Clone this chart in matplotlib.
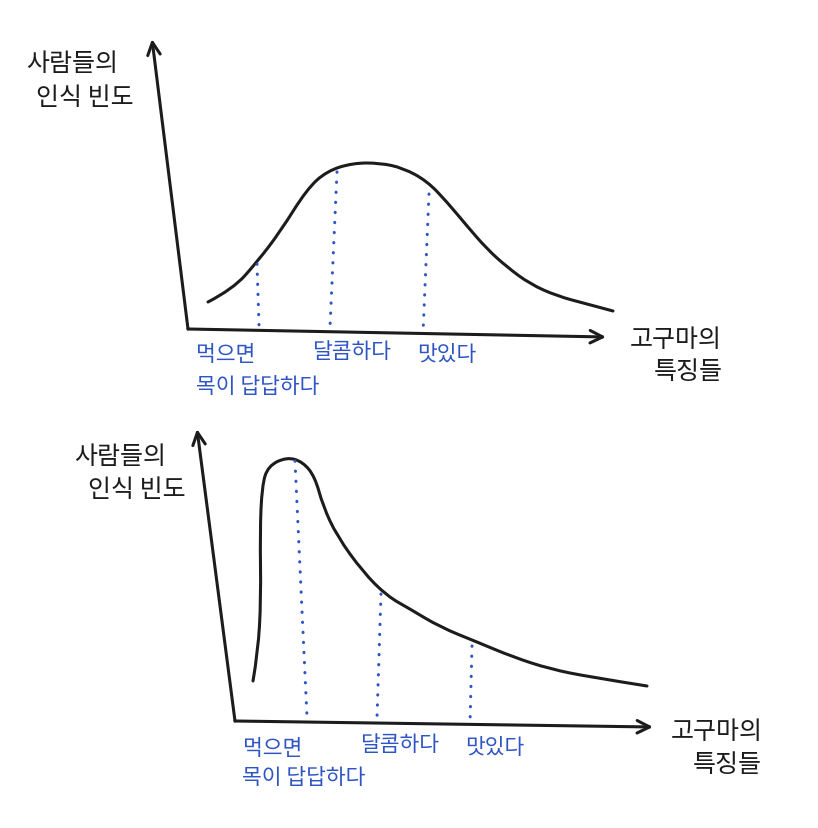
import matplotlib
matplotlib.use('Agg')
import matplotlib.pyplot as plt
from matplotlib.path import Path
from matplotlib.patches import PathPatch

plt.rcParams['font.family'] = ['Noto Sans CJK KR', 'DejaVu Sans']

INK = '#1c1c1c'
BLUE = '#2f55c4'

# 위 그림: 종 모양 분포 (그림 좌표, px)
top_curve_x = [208, 233, 257, 280, 307, 327, 353, 380, 403, 427, 447, 467, 487, 507, 530, 557, 587, 613]
top_curve_y = [303, 290, 263, 233, 190, 172, 164, 164, 169, 182, 203, 227, 250, 268, 285, 297, 305, 312]
top_axis_origin = (188, 330)
top_axis_ytip = (152, 40)
top_axis_xtip = (606, 338)
top_marks = [((257, 265), (259, 326)), ((337, 173), (330, 328)), ((429, 195), (423, 334))]

# 아래 그림: 한쪽으로 치우친 분포
bot_curve_x = [253, 258, 261, 260, 262, 268, 287, 303, 315, 323, 337, 363, 387, 410, 440, 477, 513, 550, 590, 647]
bot_curve_y = [682, 653, 600, 533, 487, 467, 458, 463, 478, 507, 537, 573, 597, 610, 628, 643, 658, 670, 678, 687]
bot_axis_origin = (235, 722)
bot_axis_ytip = (197, 430)
bot_axis_xtip = (653, 728)
bot_marks = [((295, 462), (307, 718)), ((381, 595), (377, 719)), ((472, 647), (470, 725))]

feature_labels = ['먹으면', '목이 답답하다', '달콤하다', '맛있다']
y_label = ['사람들의', '인식 빈도']
x_label = ['고구마의', '특징들']

fig = plt.figure(figsize=(8.18, 8.29), dpi=100)
ax = fig.add_axes([0, 0, 1, 1])
ax.set_xlim(0, 818)
ax.set_ylim(829, 0)
ax.axis('off')

arrow = dict(arrowstyle='->,head_length=0.9,head_width=0.45', lw=2.2, color=INK,
             shrinkA=0, shrinkB=0)


def smooth_path(xs, ys):
    # 읽은 점들을 제어점으로 쓰는 2차 베지어 곡선
    pts = list(zip(xs, ys))
    verts = [pts[0]]
    codes = [Path.MOVETO]
    for i in range(1, len(pts) - 1):
        mid = ((pts[i][0] + pts[i + 1][0]) / 2, (pts[i][1] + pts[i + 1][1]) / 2)
        if i == len(pts) - 2:
            mid = pts[-1]
        verts += [pts[i], mid]
        codes += [Path.CURVE3, Path.CURVE3]
    return Path(verts, codes)


def panel(cx, cy, origin, ytip, xtip, marks):
    ax.annotate('', xy=ytip, xytext=origin, arrowprops=arrow)
    ax.annotate('', xy=xtip, xytext=origin, arrowprops=arrow)
    ax.add_patch(PathPatch(smooth_path(cx, cy), facecolor='none', edgecolor=INK,
                           lw=2.2, capstyle='round', joinstyle='round'))
    for (x0, y0), (x1, y1) in marks:
        ax.plot([x0, x1], [y0, y1], color=BLUE, lw=2.2,
                linestyle=(0, (0.1, 3.2)), dash_capstyle='round')


panel(top_curve_x, top_curve_y, top_axis_origin, top_axis_ytip, top_axis_xtip, top_marks)
panel(bot_curve_x, bot_curve_y, bot_axis_origin, bot_axis_ytip, bot_axis_xtip, bot_marks)

# 축 이름
ax.text(72, 64, y_label[0], fontsize=18, color=INK, ha='center', va='center')
ax.text(85, 98, y_label[1], fontsize=18, color=INK, ha='center', va='center')
ax.text(676, 340, x_label[0], fontsize=18, color=INK, ha='center', va='center')
ax.text(688, 372, x_label[1], fontsize=18, color=INK, ha='center', va='center')

ax.text(120, 457, y_label[0], fontsize=18, color=INK, ha='center', va='center')
ax.text(137, 490, y_label[1], fontsize=18, color=INK, ha='center', va='center')
ax.text(717, 732, x_label[0], fontsize=18, color=INK, ha='center', va='center')
ax.text(727, 765, x_label[1], fontsize=18, color=INK, ha='center', va='center')

# 특징 라벨
lab = dict(fontsize=15.5, color=BLUE, ha='left', va='center', fontweight='medium')
ax.text(196, 355, feature_labels[0], **lab)
ax.text(196, 387, feature_labels[1], **lab)
ax.text(312, 352, feature_labels[2], **lab)
ax.text(417, 355, feature_labels[3], **lab)

ax.text(243, 749, feature_labels[0], **lab)
ax.text(242, 778, feature_labels[1], **lab)
ax.text(360, 745, feature_labels[2], **lab)
ax.text(465, 748, feature_labels[3], **lab)

fig.savefig('out.png', dpi=100, facecolor='white')
